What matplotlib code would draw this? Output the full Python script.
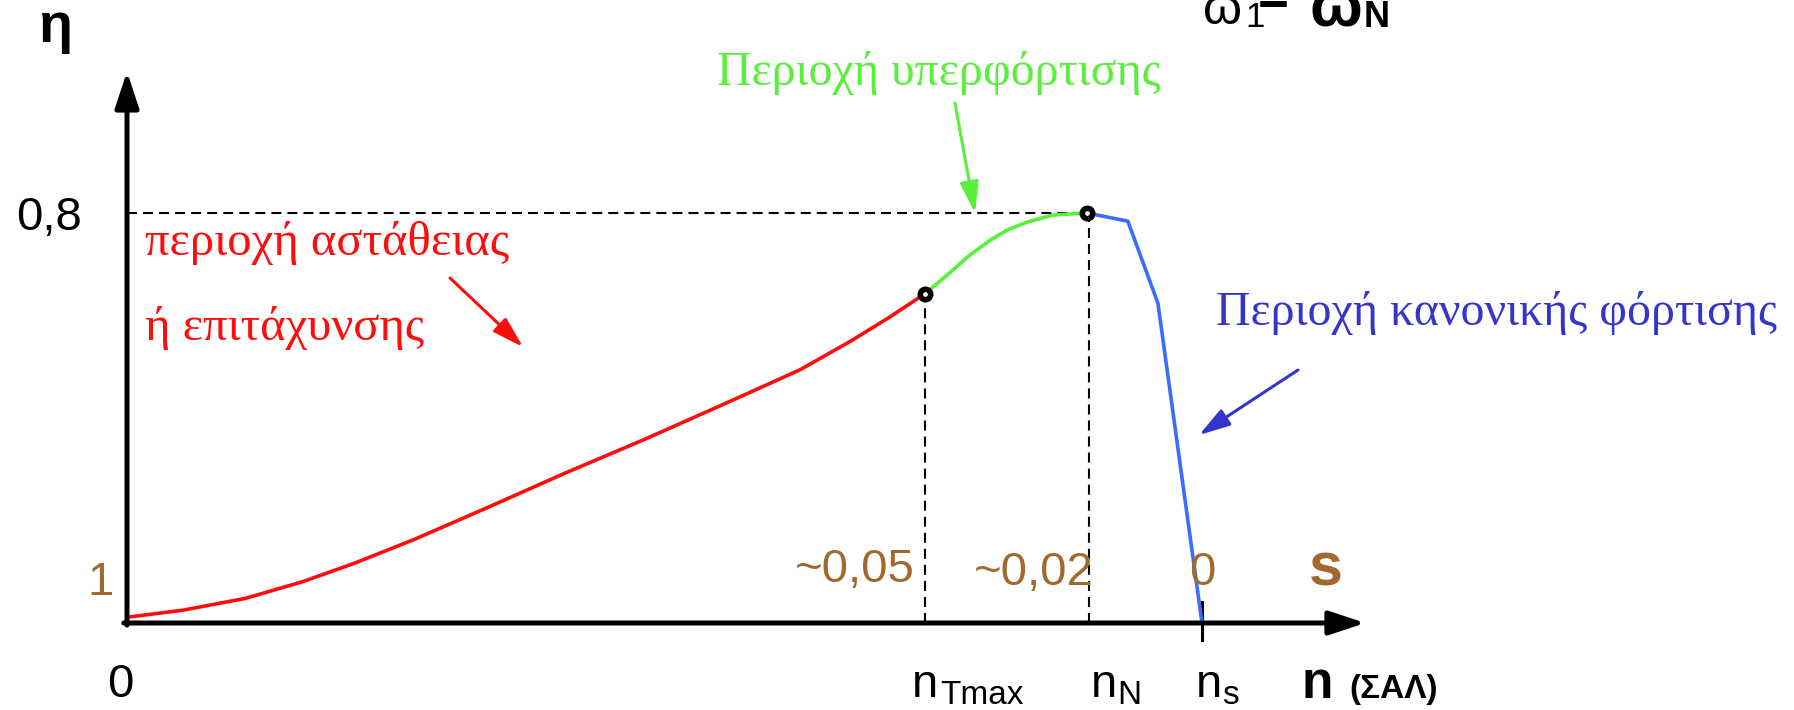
import matplotlib
matplotlib.use('Agg')
import matplotlib.pyplot as plt

W, H = 1794, 710

# n axis: 0 at origin, 1 at n_s ; eta axis: 0 at origin, 0.8 at the dashed level
n_unstable = [0.003, 0.052, 0.110, 0.164, 0.212, 0.266, 0.334, 0.407, 0.480, 0.553, 0.626, 0.674, 0.708, 0.742]
eta_unstable = [0.012, 0.025, 0.048, 0.081, 0.117, 0.162, 0.224, 0.292, 0.357, 0.425, 0.494, 0.551, 0.595, 0.642]
n_overload = [0.742, 0.763, 0.784, 0.803, 0.819, 0.837, 0.861, 0.893]
eta_overload = [0.642, 0.679, 0.718, 0.747, 0.767, 0.782, 0.796, 0.800]
n_normal = [0.893, 0.931, 0.959, 1.0]
eta_normal = [0.800, 0.784, 0.624, 0.0]

n_Tmax, n_N, n_s = 0.742, 0.893, 1.0
eta_Tmax, eta_N = 0.642, 0.80
x_end, y_end = 1.152, 1.076

s_labels = ['1', '~0,05', '~0,02', '0']

RED = '#ff0d0d'
GREEN = '#58f03a'
BLUE = '#3a6cff'
BLUE_TXT = '#3535cc'
BROWN = '#a0692f'

fig = plt.figure(figsize=(W / 100, H / 100), dpi=100)
ax = fig.add_axes([0, 0, 1, 1])
ax.set_xlim(-0.11814, 1.5507)
ax.set_ylim(-0.16976, 1.21561)
ax.axis('off')


def txt(x, y, s, **kw):
    # x, y in pixels of the picture (y from top), baseline anchored
    kw.setdefault('va', 'baseline')
    return fig.text(x / W, 1 - y / H, s, **kw)


def arrow(x0, y0, x1, y1, color, lw=2.2):
    ax.annotate('', xy=(x1 / W, 1 - y1 / H), xytext=(x0 / W, 1 - y0 / H),
                xycoords='figure fraction', textcoords='figure fraction',
                arrowprops=dict(arrowstyle='-|>,head_length=1.0,head_width=0.3',
                                mutation_scale=19, color=color, lw=lw,
                                shrinkA=0, shrinkB=0))


# axes with arrows
ax.annotate('', xy=(0, y_end), xytext=(0, -0.004),
            arrowprops=dict(arrowstyle='-|>,head_length=1.0,head_width=0.33',
                            mutation_scale=22, color='black', lw=3.6,
                            shrinkA=0, shrinkB=0))
ax.annotate('', xy=(x_end, 0), xytext=(-0.003, 0),
            arrowprops=dict(arrowstyle='-|>,head_length=1.0,head_width=0.33',
                            mutation_scale=22, color='black', lw=3.6,
                            shrinkA=0, shrinkB=0))
ax.plot([n_s, n_s], [0.041, -0.033], color='black', lw=2.2)

# dashed guides
ax.plot([0, n_N], [eta_N, eta_N], '--k', lw=1.5, dashes=(4.8, 2.9))
ax.plot([n_Tmax, n_Tmax], [0, eta_Tmax], '--k', lw=1.5, dashes=(4.8, 2.9))
ax.plot([n_N + 0.002, n_N + 0.002], [0, eta_N], '--k', lw=1.5, dashes=(4.8, 2.9))

# curve
ax.plot(n_unstable, eta_unstable, color=RED, lw=2.6, solid_capstyle='round')
ax.plot(n_overload, eta_overload, color=GREEN, lw=2.6, solid_capstyle='round')
ax.plot(n_normal, eta_normal, color=BLUE, lw=2.6, solid_capstyle='round')
ax.plot([n_Tmax, n_N], [eta_Tmax, eta_N], 'o', ms=7.5, mfc='white', mec='black', mew=4)

# region labels
serif = 'Liberation Serif'
sans = 'Liberation Sans'
txt(145, 255, 'περιοχή αστάθειας', color=RED, fontsize=35, family=serif)
txt(145, 340, 'ή επιτάχυνσης', color=RED, fontsize=35, family=serif)
arrow(450, 278, 523, 347, RED)
txt(717, 85, 'Περιοχή υπερφόρτισης', color=GREEN, fontsize=34.5, family=serif)
arrow(955, 103, 975, 213, GREEN)
txt(1216, 325, 'Περιοχή κανονικής φόρτισης', color=BLUE_TXT, fontsize=34.5, family=serif)
arrow(1298, 370, 1199, 435, BLUE_TXT)

# axis labels
txt(55, 42, 'η', fontsize=40, fontweight='bold', family=sans, ha='center')
txt(82, 230, '0,8', fontsize=34, family=sans, ha='right')
txt(120, 697, '0', fontsize=34, family=sans, ha='center')

txt(114, 595, s_labels[0], fontsize=34, family=sans, color=BROWN, ha='right')
txt(915, 582, s_labels[1], fontsize=34, family=sans, color=BROWN, ha='right')
txt(1094, 585, s_labels[2], fontsize=34, family=sans, color=BROWN, ha='right')
txt(1202, 585, s_labels[3], fontsize=34, family=sans, color=BROWN, ha='center')
txt(1326, 585, 's', fontsize=44, family=sans, color=BROWN, fontweight='bold', ha='center')

# n labels
txt(912, 697, 'n', fontsize=34, family=sans)
txt(940, 704, 'Tmax', fontsize=24, family=sans)
txt(1091, 697, 'n', fontsize=34, family=sans)
txt(1117, 704, 'N', fontsize=24, family=sans)
txt(1196, 697, 'n', fontsize=34, family=sans)
txt(1222, 704, 's', fontsize=24, family=sans)
txt(1301, 698, 'n', fontsize=37, family=sans, fontweight='bold')
txt(1349, 698, '(ΣΑΛ)', fontsize=24, family=sans, fontweight='bold')

# omega relation, partly cut by the top edge
txt(1203, 24, 'ω', fontsize=36, family=sans)
txt(1245, 27, '1', fontsize=25, family=sans)
txt(1258, 14, '=', fontsize=38, family=sans, fontweight='bold')
txt(1309, 25, 'ω', fontsize=45, family=sans, fontweight='bold')
txt(1364, 27, 'N', fontsize=26, family=sans, fontweight='bold')

fig.savefig('out.png', dpi=100)
